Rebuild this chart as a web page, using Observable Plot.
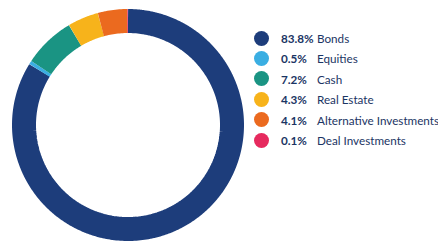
<!DOCTYPE html>
<html>
<head>
<meta charset="utf-8">
<script src="https://cdn.jsdelivr.net/npm/d3@7"></script>
<script src="https://cdn.jsdelivr.net/npm/@observablehq/plot@0.6"></script>
<style>
  html, body { margin: 0; padding: 0; background: #fff; }
  #wrap { position: relative; width: 438px; height: 241px; overflow: hidden; font-family: Lato, "Open Sans", sans-serif; }
  #chart { position: absolute; left: 0; top: 0; }
  #legend { position: absolute; left: 254px; top: 30px; }
  .row { position: absolute; left: 0; height: 16px; width: 190px; color: #1b3564; font-size: 11.7px; line-height: 16px; white-space: nowrap; }
  .sw { position: absolute; left: 0; top: 0.5px; width: 15px; height: 15px; border-radius: 50%; }
  .pct { position: absolute; left: 27px; font-weight: 700; }
  .lab { position: absolute; left: 63px; }
</style>
</head>
<body>
<div id="wrap">
  <div id="chart"></div>
  <div id="legend"></div>
</div>
<script>
const categories = ["Bonds", "Equities", "Cash", "Real Estate", "Alternative Investments", "Deal Investments"];
const values = [83.8, 0.5, 7.2, 4.3, 4.1, 0.1];
const colors = ["#1d3d7b", "#3aaee2", "#1a9483", "#f7b31b", "#eb6a1f", "#e62a5e"];

const outerR = 116, innerR = 92, midR = (outerR + innerR) / 2;
const total = d3.sum(values);

// build arc polylines along the ring's midline for each slice
const points = [];
let cum = 0;
values.forEach((v, i) => {
  const a0 = cum / total * 2 * Math.PI;
  cum += v;
  const a1 = cum / total * 2 * Math.PI;
  const n = Math.max(2, Math.ceil((a1 - a0) / (Math.PI / 180)));
  for (let k = 0; k <= n; k++) {
    const a = a0 + (a1 - a0) * k / n;
    points.push({ category: categories[i], x: midR * Math.sin(a), y: midR * Math.cos(a) });
  }
});

const cx = 127.5, cy = 124.5;
const chart = Plot.plot({
  width: 438,
  height: 241,
  margin: 0,
  x: { domain: [-outerR, outerR], range: [cx - outerR, cx + outerR], axis: null },
  y: { domain: [-outerR, outerR], range: [cy + outerR, cy - outerR], axis: null },
  color: { domain: categories, range: colors },
  style: { background: "transparent" },
  marks: [
    Plot.line(points, {
      x: "x", y: "y", z: "category", stroke: "category",
      strokeWidth: outerR - innerR, strokeLinecap: "butt", strokeLinejoin: "miter", curve: "linear"
    })
  ]
});
document.getElementById("chart").appendChild(chart);

const legend = document.getElementById("legend");
categories.forEach((c, i) => {
  const row = document.createElement("div");
  row.className = "row";
  row.style.top = (i * 20.4) + "px";
  row.innerHTML = `<span class="sw" style="background:${colors[i]}"></span>` +
    `<span class="pct">${values[i].toFixed(1)}%</span>` +
    `<span class="lab">${c}</span>`;
  legend.appendChild(row);
});
</script>
</body>
</html>
